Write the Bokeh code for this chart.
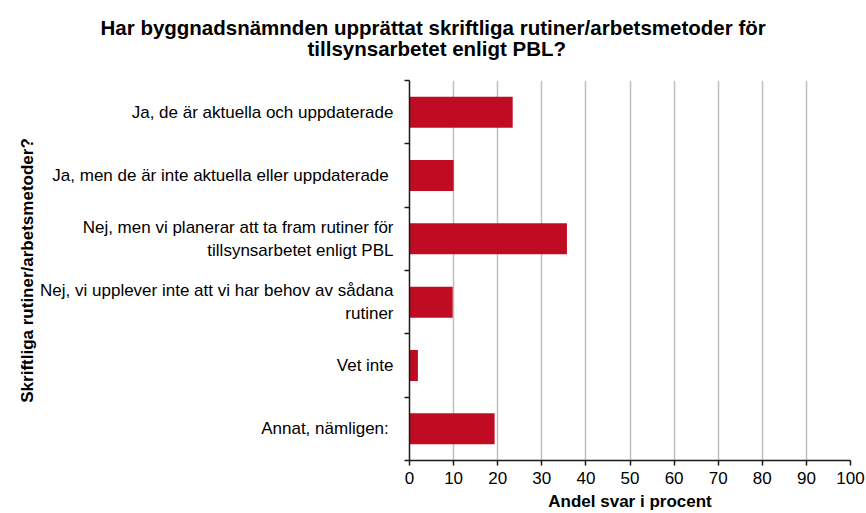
from bokeh.plotting import figure
from bokeh.models import Range1d, FixedTicker, Title
from bokeh.embed import file_html
from bokeh.resources import INLINE

title_lines = [
    "Har byggnadsnämnden upprättat skriftliga rutiner/arbetsmetoder för",
    "tillsynsarbetet enligt PBL?",
]
categories = [
    "Ja, de är aktuella och uppdaterade",
    "Ja, men de är inte aktuella eller uppdaterade ",
    "Nej, men vi planerar att ta fram rutiner för\ntillsynsarbetet enligt PBL",
    "Nej, vi upplever inte att vi har behov av sådana\nrutiner",
    "Vet inte",
    "Annat, nämligen: ",
]
values = [23.4, 10.0, 35.7, 9.8, 1.9, 19.3]
x_ticks = [0, 10, 20, 30, 40, 50, 60, 70, 80, 90, 100]
x_label = "Andel svar i procent"
y_label = "Skriftliga rutiner/arbetsmetoder?"

FONT = "Liberation Sans"
BAR = "#C00C23"

n = len(categories)
y_pos = [i + 0.5 for i in range(n)]
bounds = [i for i in range(n + 1)]

p = figure(width=866, height=513, x_range=Range1d(0, 100), y_range=Range1d(n, 0),
           output_backend="svg", toolbar_location=None,
           min_border_left=409, min_border_right=16, min_border_top=80, min_border_bottom=51)
p.outline_line_color = None
p.background_fill_color = "white"
p.border_fill_color = "white"

p.hbar(y=y_pos, right=values, left=0, height=0.49, fill_color=BAR, line_color=None)

# grid
p.ygrid.visible = False
p.xgrid.ticker = FixedTicker(ticks=x_ticks)
p.xgrid.grid_line_color = "#BFBFBF"
p.xgrid.grid_line_width = 1.5

# x axis
xa = p.xaxis[0]
xa.ticker = FixedTicker(ticks=x_ticks)
xa.axis_line_color = "#1a1a1a"
xa.axis_line_width = 1.5
xa.major_tick_line_color = "#1a1a1a"
xa.major_tick_line_width = 1.5
xa.major_tick_out = 5
xa.major_tick_in = 0
xa.minor_tick_line_color = None
xa.major_label_text_font = FONT
xa.major_label_text_font_size = "17px"
xa.major_label_text_color = "black"
xa.major_label_standoff = 6
xa.axis_label = x_label
xa.axis_label_text_font = FONT
xa.axis_label_text_font_size = "17px"
xa.axis_label_text_font_style = "bold"
xa.axis_label_text_color = "black"
xa.axis_label_standoff = 5

# y axis
ya = p.yaxis[0]
ya.ticker = FixedTicker(ticks=y_pos, minor_ticks=bounds)
ya.major_label_overrides = {y: c for y, c in zip(y_pos, categories)}
ya.axis_line_color = "#1a1a1a"
ya.axis_line_width = 1.5
ya.major_tick_line_color = None
ya.major_tick_out = 5
ya.major_tick_in = 0
ya.minor_tick_line_color = "#1a1a1a"
ya.minor_tick_line_width = 1.5
ya.minor_tick_out = 5
ya.minor_tick_in = 0
ya.major_label_text_font = FONT
ya.major_label_text_font_size = "17px"
ya.major_label_text_color = "black"
ya.major_label_standoff = 11
ya.axis_label = y_label
ya.axis_label_text_font = FONT
ya.axis_label_text_font_size = "17px"
ya.axis_label_text_font_style = "bold"
ya.axis_label_text_color = "black"
ya.axis_label_standoff = 0

# two-line title, centred on the whole figure (offsets relative to frame left)
spacer = Title(text=" ", text_font_size="1px", standoff=18)
t2 = Title(text=title_lines[1], align="left", offset=-102, standoff=0,
           text_font=FONT, text_font_style="bold", text_font_size="20.5px",
           text_color="black")
t1 = Title(text=title_lines[0], align="left", offset=-309, standoff=-9,
           text_font=FONT, text_font_style="bold", text_font_size="20.5px",
           text_color="black")
p.add_layout(spacer, "above")
p.add_layout(t2, "above")
p.add_layout(t1, "above")

open("out.html", "w").write(file_html(p, INLINE))
